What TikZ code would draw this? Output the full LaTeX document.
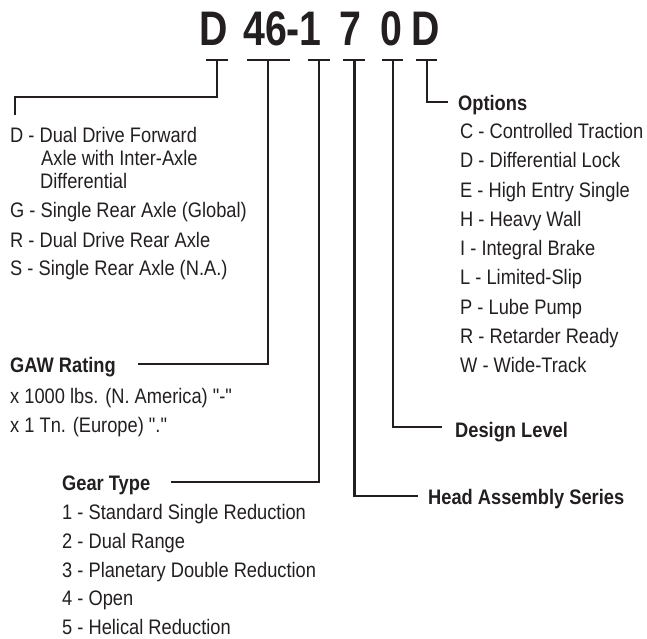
\documentclass[tikz,border=0pt]{standalone}
\usepackage{fontspec}
\setmainfont{Liberation Sans}[FakeStretch=0.87,Ligatures=TeXOff]
\newfontfamily\titlefont{Liberation Sans}[FakeStretch=0.81]
\definecolor{ink}{RGB}{35,31,32}
\begin{document}
\begin{tikzpicture}[x=1pt,y=-1pt,
  txt/.style={anchor=base west,inner sep=0pt,text=ink,font=\fontsize{21}{24}\selectfont},
  hdr/.style={txt,font=\fontsize{21}{24}\selectfont\bfseries},
  ttl/.style={anchor=base,inner sep=0pt,text=ink,font=\fontsize{48.5}{50}\selectfont\titlefont\bfseries},
  conn/.style={draw=ink,line width=2.6pt},
  tick/.style={draw=ink,line width=2.6pt}]
\useasboundingbox (0,0) rectangle (647,638);
% title
\node[ttl] (c1) at (213.5,45) {D};
\node[ttl] (c2) at (282.5,45) {46-1};
\node[ttl] (c3) at (350,45) {7};
\node[ttl] (c4) at (391,45) {0};
\node[ttl] (c5) at (425.5,45) {D};
% ticks
\coordinate (t1) at (217,60); \coordinate (t2) at (268,60); \coordinate (t3) at (319,60);
\coordinate (t4) at (354.5,60); \coordinate (t5) at (393,60); \coordinate (t6) at (427,60);
\draw[tick] (206,60) -- (228,60);
\draw[tick] (247,60) -- (290,60);
\draw[tick] (308,60) -- (330,60);
\draw[tick] (343,60) -- (365,60);
\draw[tick] (382,60) -- (403,60);
\draw[tick] (416,60) -- (437,60);
% left list
\node[txt] (dd) at (10,142.5) {D - Dual Drive Forward};
\node[txt] (dd2) at (41,165.5) {Axle with Inter-Axle};
\node[txt] (dd3) at (40,188.5) {Differential};
\node[txt] (gg) at (10,217.5) {G - Single Rear Axle (Global)};
\node[txt] (rr) at (10,247.5) {R - Dual Drive Rear Axle};
\node[txt] (ss) at (10,275.5) {S - Single Rear Axle (N.A.)};
% GAW
\node[hdr] (gaw) at (10,372.5) {GAW Rating};
\node[txt] (gaw1) at (10,403.5) {x 1000 lbs. (N. America) "-"};
\node[txt] (gaw2) at (10,432.5) {x 1 Tn. (Europe) "."};
% Gear type
\node[hdr] (gear) at (62,490.5) {Gear Type};
\node[txt] (g1) at (62,519.5) {1 - Standard Single Reduction};
\node[txt] (g2) at (62,548.5) {2 - Dual Range};
\node[txt] (g3) at (62,577.5) {3 - Planetary Double Reduction};
\node[txt] (g4) at (62,605.5) {4 - Open};
\node[txt] (g5) at (62,634) {5 - Helical Reduction};
% options
\node[hdr] (opt) at (458,110.5) {Options};
\node[txt] (o1) at (460,138.5) {C - Controlled Traction};
\node[txt] (o2) at (460,167.75) {D - Differential Lock};
\node[txt] (o3) at (460,197) {E - High Entry Single};
\node[txt] (o4) at (460,226.25) {H - Heavy Wall};
\node[txt] (o5) at (460,255.5) {I - Integral Brake};
\node[txt] (o6) at (460,284.75) {L - Limited-Slip};
\node[txt] (o7) at (460,314) {P - Lube Pump};
\node[txt] (o8) at (460,343.25) {R - Retarder Ready};
\node[txt] (o9) at (460,372.5) {W - Wide-Track};
% design / head
\node[hdr] (des) at (455,437.5) {Design Level};
\node[hdr] (head) at (428,504.5) {Head Assembly Series};
% connector ends
\coordinate (e1) at (15,115);
\coordinate (e2) at (138,364);
\coordinate (e3) at (171,482);
\coordinate (e4) at (418,496);
\coordinate (e5) at (442,427);
\coordinate (e6) at (448,102);
\draw[conn] (t1) -- (217,97) -| (e1);
\draw[conn] (t2) |- (e2);
\draw[conn] (t3) |- (e3);
\draw[conn] (t4) |- (e4);
\draw[conn] (t5) |- (e5);
\draw[conn] (t6) |- (e6);
\end{tikzpicture}
\end{document}
